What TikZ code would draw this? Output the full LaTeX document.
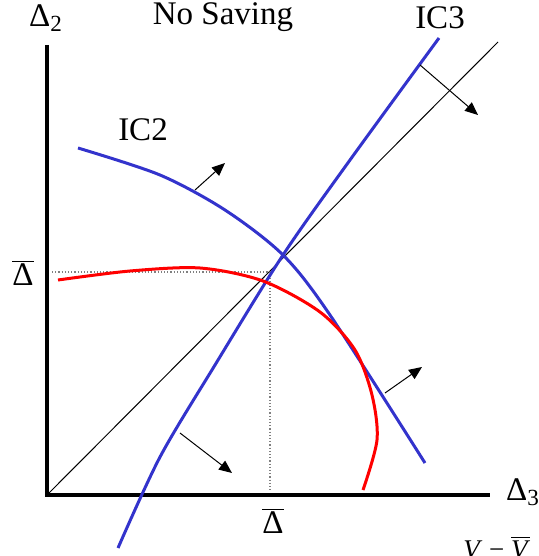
\documentclass[tikz,border=0pt]{standalone}
\usepackage{fontspec}
\setmainfont{Liberation Serif}
\usetikzlibrary{arrows.meta}
\definecolor{CurveBlue}{RGB}{51,51,204}
\definecolor{CurveRed}{RGB}{255,0,0}

\begin{document}
\begin{tikzpicture}[x=0.5pt,y=-0.5pt,>={Triangle[length=6.5pt,width=5.5pt]},
  lab/.style={font=\fontsize{16.5}{18}\selectfont,inner sep=0pt},
  icurve/.style={CurveBlue,line width=1.5pt},
  budget/.style={CurveRed,line width=1.5pt},
  movearrow/.style={->,line width=0.5pt}]
\useasboundingbox (0,0) rectangle (539,556);
% axes
\coordinate (top) at (47,45);
\coordinate (O) at (47,495);
\coordinate (right) at (490,495);
\draw[line width=2.2pt] (top) -- (O) -- (right);
% 45 degree line and the point Delta-bar
\coordinate (diag) at (498,42);
\draw[line width=0.5pt] (O) -- (diag);
\coordinate (dl) at (52,272);
\coordinate (dc) at (270,272);
\coordinate (db) at (270,492);
\draw[gray,densely dotted,line width=0.6pt] (dl) -- (dc) -- (db);
% curves
\draw[icurve] plot[smooth] coordinates {(118,548) (160,457) (215,365) (283,255) (350,160) (439,38)};
\draw[icurve] plot[smooth] coordinates {(78,148) (160,175) (225,210) (283,255) (330,315) (425,463)};
\draw[budget] plot[smooth] coordinates {(58,280) (130,271) (200,268) (263,281) (320,312) (355,350) (372,395) (377,440) (363,490)};
% direction arrows
\coordinate (ictwoa) at (195,190);
\coordinate (ictwob) at (225,163);
\coordinate (ictwoc) at (385,393);
\coordinate (ictwod) at (422,367);
\coordinate (icthreea) at (420,65);
\coordinate (icthreeb) at (478,115);
\coordinate (icthreec) at (180,433);
\coordinate (icthreed) at (232,473);
\draw[movearrow] (ictwoa) -- (ictwob);
\draw[movearrow] (ictwoc) -- (ictwod);
\draw[movearrow] (icthreea) -- (icthreeb);
\draw[movearrow] (icthreec) -- (icthreed);
% labels
\node[lab] (ytitle) at (46,18) {Δ\textsubscript{2}};
\node[lab] (xtitle) at (523,492) {Δ\textsubscript{3}};
\node[lab] (title) at (223,17) {No Saving};
\node[lab] (icthree) at (440,18) {IC3};
\node[lab] (ictwo) at (143,130) {IC2};
\node[lab] (ybar) at (23,273) {$\overline{\mbox{Δ}}$};
\node[lab] (xbar) at (273,521) {$\overline{\mbox{Δ}}$};
\node[font=\fontsize{13.5}{15}\selectfont,inner sep=0pt,anchor=base west] (vdiff) at (463,558) {\textit{V}~−~$\overline{\mbox{\textit{V}}}$};
\end{tikzpicture}
\end{document}
